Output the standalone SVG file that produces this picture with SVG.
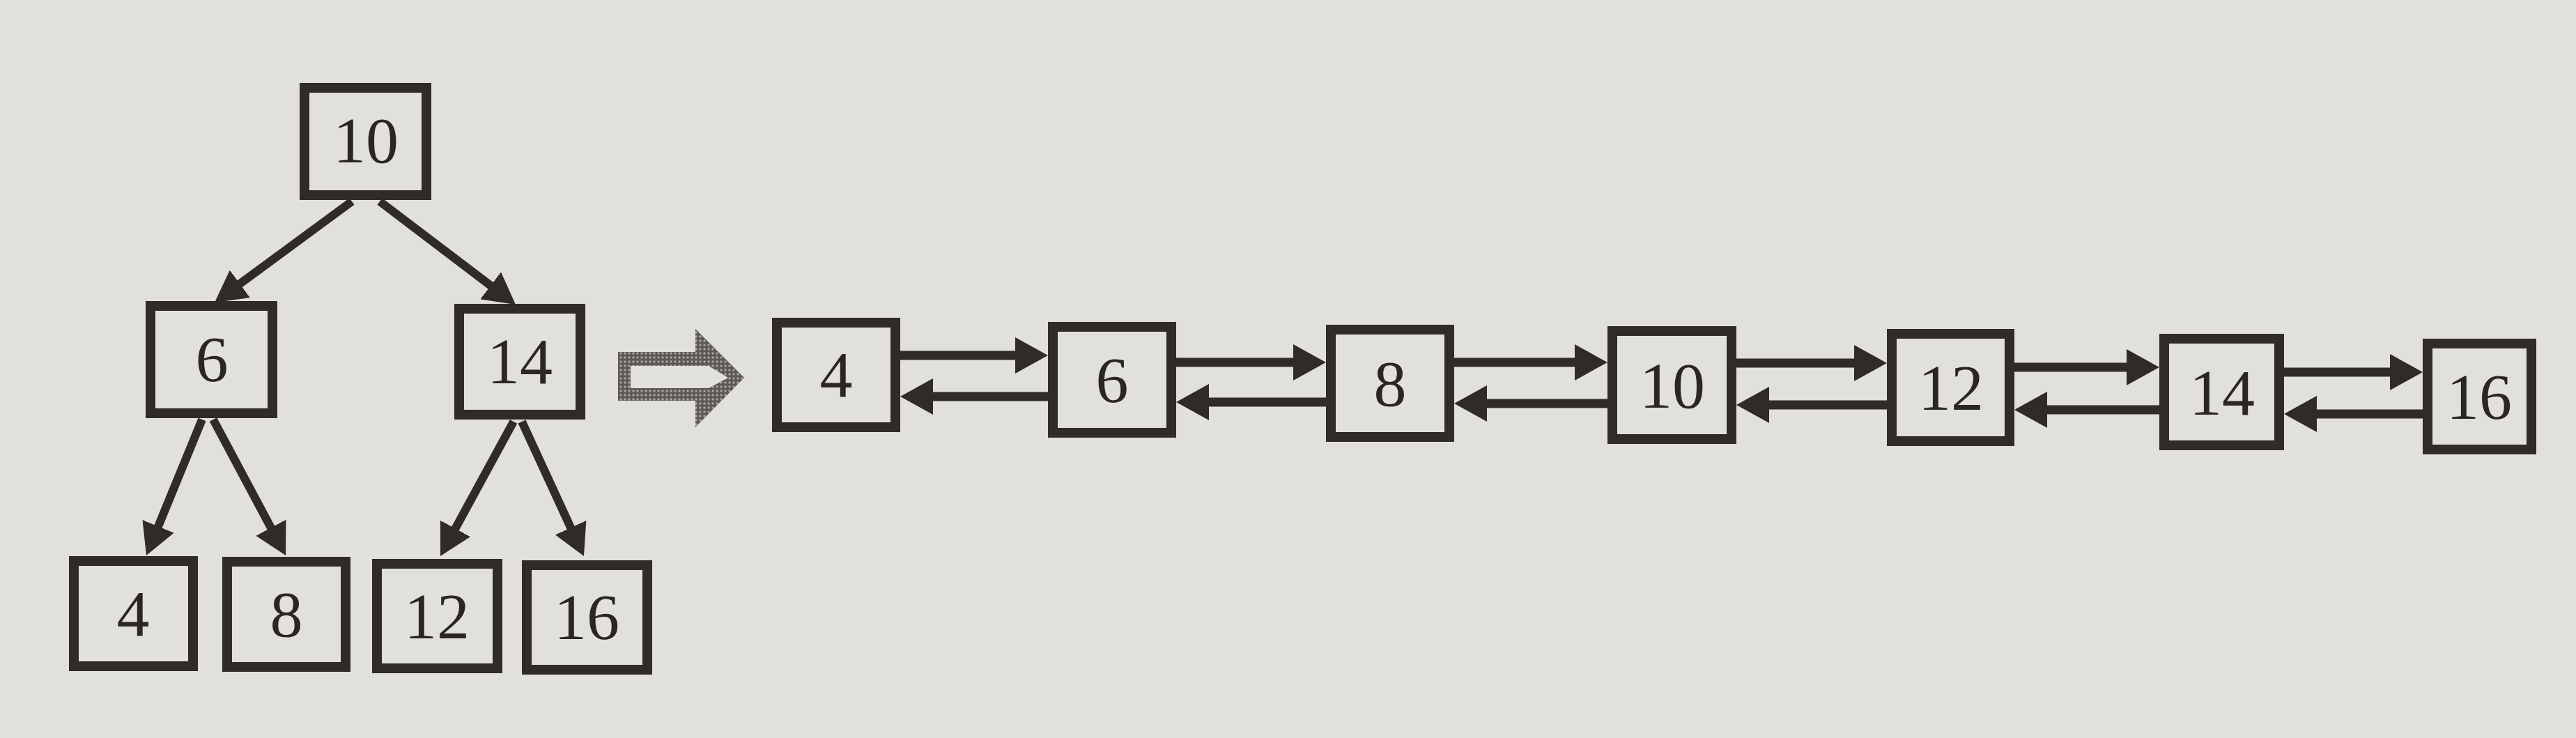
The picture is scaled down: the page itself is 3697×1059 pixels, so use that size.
<svg xmlns="http://www.w3.org/2000/svg" width="3697" height="1059" viewBox="0 0 3697 1059">
<style>
.box{fill:none;stroke:#2f2b29;stroke-width:14}
.lbl{font-family:"Liberation Serif","Times New Roman",serif;font-size:94px;fill:#2a2624;text-anchor:middle}
.tl{fill:none;stroke:#2f2b29;stroke-width:12;marker-end:url(#th)}
.ll{fill:none;stroke:#2f2b29;stroke-width:13;marker-end:url(#lh)}
</style>
<defs>
<marker id="th" viewBox="0 0 45 49" refX="15" refY="24.5" markerWidth="45" markerHeight="49" markerUnits="userSpaceOnUse" orient="auto"><path d="M0,0 L45,24.5 L0,49 z" fill="#2f2b29"/></marker>
<marker id="lh" viewBox="0 0 47 52" refX="15" refY="26" markerWidth="47" markerHeight="52" markerUnits="userSpaceOnUse" orient="auto"><path d="M0,0 L47,26 L0,52 z" fill="#2f2b29"/></marker>
<pattern id="halftone" width="6" height="6" patternUnits="userSpaceOnUse"><rect width="6" height="6" fill="#5c5855"/><circle cx="3" cy="3" r="1.7" fill="#a9a59f"/></pattern>
</defs>
<rect x="0" y="0" width="3697" height="1059" fill="#e2e0da"/>
<g id="connectors">
<path class="tl" d="M505,289 L332.2,416.2"/>
<path class="tl" d="M545,289 L716.1,418.9"/>
<path class="tl" d="M290,602 L221.4,769.2"/>
<path class="tl" d="M306,602 L395.9,770.5"/>
<path class="tl" d="M737,605 L646.3,771.6"/>
<path class="tl" d="M749,605 L825.4,770.8"/>
<path class="ll" d="M1292,510 H1472"/>
<path class="ll" d="M1504,569 H1324"/>
<path class="ll" d="M1688,520 H1871"/>
<path class="ll" d="M1903,577 H1720"/>
<path class="ll" d="M2087,520 H2275"/>
<path class="ll" d="M2307,579 H2119"/>
<path class="ll" d="M2492,521 H2676"/>
<path class="ll" d="M2708,581 H2524"/>
<path class="ll" d="M2891,527 H3067"/>
<path class="ll" d="M3099,588 H2923"/>
<path class="ll" d="M3278,534 H3445"/>
<path class="ll" d="M3477,594 H3310"/>
</g>
<g id="convert-arrow">
<path d="M887,505 L998,505 L998,472 L1068,542 L998,613 L998,575 L887,575 Z M905,525 L905,557 L1017,557 L1045,542 L1017,525 Z" fill="url(#halftone)" fill-rule="evenodd"/>
</g>
<g id="tree-10"><rect class="box" x="437" y="126" width="175" height="154"/><text class="lbl" x="525" y="233">10</text></g>
<g id="tree-6"><rect class="box" x="216" y="439" width="175" height="154"/><text class="lbl" x="304" y="547">6</text></g>
<g id="tree-14"><rect class="box" x="659" y="443" width="174" height="152"/><text class="lbl" x="746" y="550">14</text></g>
<g id="tree-4"><rect class="box" x="106" y="805" width="171" height="151"/><text class="lbl" x="191" y="912">4</text></g>
<g id="tree-8"><rect class="box" x="326" y="806" width="170" height="151"/><text class="lbl" x="411" y="913">8</text></g>
<g id="tree-12"><rect class="box" x="541" y="809" width="173" height="150"/><text class="lbl" x="627" y="916">12</text></g>
<g id="tree-16"><rect class="box" x="756" y="811" width="173" height="150"/><text class="lbl" x="842" y="917">16</text></g>
<g id="list-4"><rect class="box" x="1115" y="463" width="170" height="150"/><text class="lbl" x="1200" y="569">4</text></g>
<g id="list-6"><rect class="box" x="1511" y="469" width="170" height="152"/><text class="lbl" x="1596" y="577">6</text></g>
<g id="list-8"><rect class="box" x="1910" y="473" width="170" height="154"/><text class="lbl" x="1995" y="582">8</text></g>
<g id="list-10"><rect class="box" x="2314" y="475" width="171" height="155"/><text class="lbl" x="2400" y="585">10</text></g>
<g id="list-12"><rect class="box" x="2715" y="479" width="169" height="154"/><text class="lbl" x="2800" y="588">12</text></g>
<g id="list-14"><rect class="box" x="3106" y="486" width="165" height="153"/><text class="lbl" x="3189" y="595">14</text></g>
<g id="list-16"><rect class="box" x="3484" y="493" width="149" height="152"/><text class="lbl" x="3558" y="601">16</text></g>
</svg>
